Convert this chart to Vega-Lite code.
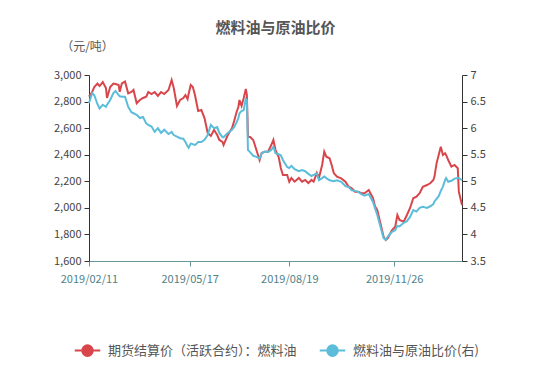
{
  "$schema": "https://vega.github.io/schema/vega-lite/v6.json",
  "autosize": {"type": "none"},
  "width": 373,
  "height": 186,
  "padding": {"left": 89, "top": 75, "right": 88, "bottom": 120},
  "background": "white",
  "title": {"text": "燃料油与原油比价", "fontSize": 15, "fontWeight": "bold", "color": "#555", "anchor": "middle", "offset": 4},
  "data": {"values": [
    {"date":"2019-02-11","price":2837,"ratio":6.47},
    {"date":"2019-02-14","price":2872,"ratio":6.66},
    {"date":"2019-02-16","price":2910,"ratio":6.62},
    {"date":"2019-02-19","price":2936,"ratio":6.45},
    {"date":"2019-02-21","price":2917,"ratio":6.37},
    {"date":"2019-02-24","price":2947,"ratio":6.44},
    {"date":"2019-02-27","price":2902,"ratio":6.40},
    {"date":"2019-02-28","price":2827,"ratio":6.44},
    {"date":"2019-03-03","price":2910,"ratio":6.53},
    {"date":"2019-03-06","price":2936,"ratio":6.66},
    {"date":"2019-03-08","price":2932,"ratio":6.70},
    {"date":"2019-03-11","price":2925,"ratio":6.62},
    {"date":"2019-03-12","price":2874,"ratio":6.60},
    {"date":"2019-03-14","price":2936,"ratio":6.59},
    {"date":"2019-03-17","price":2950,"ratio":6.59},
    {"date":"2019-03-20","price":2862,"ratio":6.40},
    {"date":"2019-03-23","price":2872,"ratio":6.30},
    {"date":"2019-03-25","price":2887,"ratio":6.28},
    {"date":"2019-03-28","price":2787,"ratio":6.25},
    {"date":"2019-03-31","price":2812,"ratio":6.19},
    {"date":"2019-04-03","price":2827,"ratio":6.21},
    {"date":"2019-04-06","price":2837,"ratio":6.09},
    {"date":"2019-04-08","price":2872,"ratio":6.06},
    {"date":"2019-04-11","price":2857,"ratio":6.03},
    {"date":"2019-04-14","price":2872,"ratio":5.93},
    {"date":"2019-04-17","price":2842,"ratio":6.00},
    {"date":"2019-04-20","price":2872,"ratio":5.91},
    {"date":"2019-04-23","price":2857,"ratio":5.97},
    {"date":"2019-04-27","price":2887,"ratio":5.89},
    {"date":"2019-04-30","price":2962,"ratio":5.93},
    {"date":"2019-05-02","price":2902,"ratio":5.87},
    {"date":"2019-05-05","price":2767,"ratio":5.84},
    {"date":"2019-05-08","price":2812,"ratio":5.81},
    {"date":"2019-05-11","price":2827,"ratio":5.80},
    {"date":"2019-05-13","price":2849,"ratio":5.74},
    {"date":"2019-05-15","price":2819,"ratio":5.66},
    {"date":"2019-05-16","price":2857,"ratio":5.63},
    {"date":"2019-05-18","price":2925,"ratio":5.71},
    {"date":"2019-05-20","price":2910,"ratio":5.70},
    {"date":"2019-05-22","price":2849,"ratio":5.68},
    {"date":"2019-05-25","price":2729,"ratio":5.74},
    {"date":"2019-05-28","price":2737,"ratio":5.74},
    {"date":"2019-05-31","price":2676,"ratio":5.78},
    {"date":"2019-06-03","price":2563,"ratio":5.87},
    {"date":"2019-06-06","price":2541,"ratio":6.06},
    {"date":"2019-06-09","price":2586,"ratio":6.00},
    {"date":"2019-06-12","price":2548,"ratio":6.02},
    {"date":"2019-06-14","price":2511,"ratio":5.91},
    {"date":"2019-06-17","price":2496,"ratio":5.83},
    {"date":"2019-06-18","price":2473,"ratio":5.83},
    {"date":"2019-06-20","price":2511,"ratio":5.87},
    {"date":"2019-06-22","price":2548,"ratio":5.91},
    {"date":"2019-06-26","price":2601,"ratio":5.97},
    {"date":"2019-06-28","price":2654,"ratio":6.02},
    {"date":"2019-06-30","price":2714,"ratio":6.10},
    {"date":"2019-07-02","price":2761,"ratio":6.19},
    {"date":"2019-07-03","price":2812,"ratio":6.28},
    {"date":"2019-07-05","price":2767,"ratio":6.32},
    {"date":"2019-07-07","price":2827,"ratio":6.34},
    {"date":"2019-07-09","price":2895,"ratio":6.55},
    {"date":"2019-07-10","price":2849,"ratio":6.53},
    {"date":"2019-07-11","price":2536,"ratio":5.59},
    {"date":"2019-07-13","price":2533,"ratio":5.55},
    {"date":"2019-07-16","price":2511,"ratio":5.48},
    {"date":"2019-07-19","price":2435,"ratio":5.46},
    {"date":"2019-07-22","price":2360,"ratio":5.43},
    {"date":"2019-07-24","price":2413,"ratio":5.53},
    {"date":"2019-07-27","price":2423,"ratio":5.56},
    {"date":"2019-07-30","price":2423,"ratio":5.55},
    {"date":"2019-08-02","price":2473,"ratio":5.59},
    {"date":"2019-08-04","price":2511,"ratio":5.65},
    {"date":"2019-08-06","price":2435,"ratio":5.53},
    {"date":"2019-08-09","price":2383,"ratio":5.51},
    {"date":"2019-08-11","price":2300,"ratio":5.49},
    {"date":"2019-08-13","price":2247,"ratio":5.40},
    {"date":"2019-08-17","price":2247,"ratio":5.27},
    {"date":"2019-08-19","price":2197,"ratio":5.25},
    {"date":"2019-08-21","price":2225,"ratio":5.29},
    {"date":"2019-08-24","price":2197,"ratio":5.23},
    {"date":"2019-08-28","price":2225,"ratio":5.19},
    {"date":"2019-08-31","price":2197,"ratio":5.21},
    {"date":"2019-09-03","price":2210,"ratio":5.19},
    {"date":"2019-09-06","price":2187,"ratio":5.14},
    {"date":"2019-09-09","price":2210,"ratio":5.10},
    {"date":"2019-09-11","price":2197,"ratio":5.12},
    {"date":"2019-09-14","price":2262,"ratio":5.15},
    {"date":"2019-09-16","price":2225,"ratio":5.02},
    {"date":"2019-09-19","price":2323,"ratio":5.06},
    {"date":"2019-09-21","price":2423,"ratio":5.09},
    {"date":"2019-09-23","price":2385,"ratio":5.06},
    {"date":"2019-09-26","price":2373,"ratio":5.02},
    {"date":"2019-09-28","price":2323,"ratio":5.01},
    {"date":"2019-09-30","price":2262,"ratio":5.00},
    {"date":"2019-10-03","price":2235,"ratio":5.02},
    {"date":"2019-10-07","price":2222,"ratio":4.99},
    {"date":"2019-10-11","price":2197,"ratio":4.91},
    {"date":"2019-10-14","price":2159,"ratio":4.89},
    {"date":"2019-10-17","price":2147,"ratio":4.83},
    {"date":"2019-10-20","price":2122,"ratio":4.82},
    {"date":"2019-10-23","price":2122,"ratio":4.80},
    {"date":"2019-10-26","price":2110,"ratio":4.76},
    {"date":"2019-10-29","price":2110,"ratio":4.73},
    {"date":"2019-11-02","price":2134,"ratio":4.76},
    {"date":"2019-11-06","price":2074,"ratio":4.61},
    {"date":"2019-11-08","price":2009,"ratio":4.49},
    {"date":"2019-11-10","price":1984,"ratio":4.37},
    {"date":"2019-11-13","price":1884,"ratio":4.15},
    {"date":"2019-11-16","price":1783,"ratio":3.93},
    {"date":"2019-11-18","price":1758,"ratio":3.90},
    {"date":"2019-11-20","price":1773,"ratio":3.96},
    {"date":"2019-11-24","price":1833,"ratio":4.05},
    {"date":"2019-11-27","price":1858,"ratio":4.08},
    {"date":"2019-11-29","price":1946,"ratio":4.16},
    {"date":"2019-12-01","price":1909,"ratio":4.15},
    {"date":"2019-12-05","price":1896,"ratio":4.22},
    {"date":"2019-12-08","price":1946,"ratio":4.25},
    {"date":"2019-12-11","price":1999,"ratio":4.33},
    {"date":"2019-12-14","price":2072,"ratio":4.46},
    {"date":"2019-12-17","price":2084,"ratio":4.43},
    {"date":"2019-12-20","price":2110,"ratio":4.50},
    {"date":"2019-12-23","price":2159,"ratio":4.52},
    {"date":"2019-12-27","price":2172,"ratio":4.50},
    {"date":"2019-12-30","price":2185,"ratio":4.53},
    {"date":"2020-01-02","price":2210,"ratio":4.57},
    {"date":"2020-01-03","price":2235,"ratio":4.62},
    {"date":"2020-01-05","price":2335,"ratio":4.67},
    {"date":"2020-01-07","price":2398,"ratio":4.72},
    {"date":"2020-01-09","price":2460,"ratio":4.82},
    {"date":"2020-01-11","price":2398,"ratio":4.90},
    {"date":"2020-01-13","price":2411,"ratio":5.02},
    {"date":"2020-01-14","price":2398,"ratio":5.06},
    {"date":"2020-01-16","price":2360,"ratio":4.99},
    {"date":"2020-01-19","price":2310,"ratio":5.01},
    {"date":"2020-01-22","price":2323,"ratio":5.05},
    {"date":"2020-01-25","price":2298,"ratio":5.06},
    {"date":"2020-01-26","price":2122,"ratio":5.06},
    {"date":"2020-01-29","price":2021,"ratio":5.02}
  ]},
  "encoding": {
    "x": {
      "field": "date", "type": "temporal",
      "scale": {"type": "utc", "domain": [{"year": 2019, "month": 2, "date": 11, "utc": true}, {"year": 2020, "month": 1, "date": 29, "utc": true}]},
      "axis": {
        "title": null,
        "values": [
          {"year": 2019, "month": 2, "date": 11, "utc": true},
          {"year": 2019, "month": 5, "date": 17, "utc": true},
          {"year": 2019, "month": 8, "date": 19, "utc": true},
          {"year": 2019, "month": 11, "date": 26, "utc": true}
        ],
        "labelExpr": "utcFormat(datum.value, '%Y/%m/%d')",
        "grid": false,
        "domainColor": "#6a9898",
        "tickColor": "#6a9898",
        "labelColor": "#4f7f88",
        "labelFontSize": 11,
        "tickSize": 5,
        "labelPadding": 7,
        "labelFlush": false
      }
    }
  },
  "layer": [
    {
      "mark": {"type": "line", "strokeWidth": 2},
      "encoding": {
        "y": {
          "field": "price", "type": "quantitative",
          "scale": {"domain": [1600, 3000], "nice": false, "zero": false},
          "axis": {
            "title": "（元/吨）",
            "titleAngle": 0, "titleX": -2, "titleY": -29,
            "titleAlign": "center", "titleBaseline": "middle",
            "titleFontWeight": "normal", "titleFontSize": 12, "titleColor": "#555",
            "values": [1600, 1800, 2000, 2200, 2400, 2600, 2800, 3000],
            "format": ",.0f",
            "grid": false,
            "domainColor": "#333", "tickColor": "#333",
            "labelColor": "#444", "labelFontSize": 11,
            "tickSize": 5, "labelPadding": 3
          }
        },
        "color": {
          "datum": "期货结算价（活跃合约）：燃料油", "type": "nominal",
          "scale": {"domain": ["期货结算价（活跃合约）：燃料油", "燃料油与原油比价(右)"], "range": ["#d8464c", "#5bbdd9"]},
          "legend": {
            "title": null,
            "orient": "none",
            "legendX": -11,
            "legendY": 266,
            "direction": "horizontal",
            "symbolType": "M-1.5,0L1.5,0M0.62,0A0.62,0.62 0 1 1 -0.62,0A0.62,0.62 0 1 1 0.62,0Z",
            "symbolSize": 289,
            "symbolStrokeWidth": 2,
            "labelFontSize": 13,
            "labelColor": "#555",
            "labelOffset": 11,
            "labelLimit": 400,
            "columnPadding": 18,
            "encode": {"symbols": {"update": {"fill": {"scale": "color", "field": "value"}, "stroke": {"scale": "color", "field": "value"}}}}
          }
        }
      }
    },
    {
      "mark": {"type": "line", "strokeWidth": 2},
      "encoding": {
        "y": {
          "field": "ratio", "type": "quantitative",
          "scale": {"domain": [3.5, 7], "nice": false, "zero": false},
          "axis": {
            "orient": "right",
            "title": null,
            "values": [3.5, 4, 4.5, 5, 5.5, 6, 6.5, 7],
            "format": ".1~f",
            "grid": false,
            "domainColor": "#333", "tickColor": "#333",
            "labelColor": "#444", "labelFontSize": 11,
            "tickSize": 5, "labelPadding": 3
          }
        },
        "color": {"datum": "燃料油与原油比价(右)", "type": "nominal"}
      }
    }
  ],
  "resolve": {"scale": {"y": "independent"}},
  "config": {
    "font": "Noto Sans CJK SC",
    "view": {"stroke": null}
  }
}
